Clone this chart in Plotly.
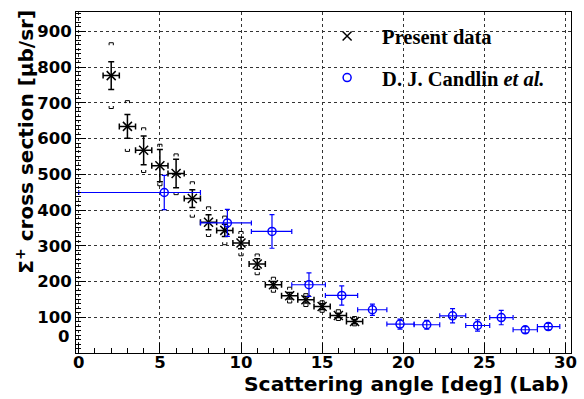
import plotly.graph_objects as go

# Present data (black)
pres_x = [2, 3, 4, 5, 6, 7, 8, 9, 10, 11, 12, 13, 14, 15, 16, 17]
pres_y = [776, 634, 567, 524, 502, 432, 366, 343, 308, 249, 191, 160, 149, 130, 105, 88]
pres_yerr = [39, 33, 40, 45, 40, 25, 21, 17, 16, 15, 9, 9, 9, 8, 6, 6]
pres_xerr = [0.5] * 16
pres_sys_hi = [868, 706, 630, 584, 557, 479, 409, 383, 340, 277, 212, 184, 166, 146, 121, 102]
pres_sys_lo = [684, 564, 505, 468, 443, 380, 326, 303, 272, 219, 170, 140, 130, 114, 91, 76]

# D. J. Candlin et al. (blue)
cand_x = [5.27, 9.16, 11.91, 14.19, 16.21, 18.1, 19.8, 21.45, 23.04, 24.58, 26.04, 27.52, 28.94]
cand_y = [449, 364, 340, 191, 161, 121, 81, 79, 104, 77, 99, 65, 74]
cand_yerr = [48, 38, 47, 33, 27, 16, 14, 12, 20, 16, 20, 9, 9]
cand_lo = [0, 7.5, 10.64, 13.13, 15.2, 17.19, 18.99, 20.67, 22.25, 23.85, 25.33, 26.77, 28.27]
cand_hi = [7.5, 10.64, 13.13, 15.2, 17.19, 18.99, 20.67, 22.25, 23.85, 25.33, 26.77, 28.27, 29.65]

x_ticks = [0, 5, 10, 15, 20, 25, 30]
y_ticks = [100, 200, 300, 400, 500, 600, 700, 800, 900]

SANS = "DejaVu Sans"
SERIF = "Liberation Serif"

# systematic brackets built from data
bw, bh = 0.13, 7
bx, by = [], []
for x, hi, lo in zip(pres_x, pres_sys_hi, pres_sys_lo):
    bx += [x - bw, x - bw, x + bw, x + bw, None]
    by += [hi - bh, hi, hi, hi - bh, None]
    bx += [x - bw, x - bw, x + bw, x + bw, None]
    by += [lo + bh, lo, lo, lo + bh, None]

fig = go.Figure()
fig.add_trace(go.Scatter(x=bx, y=by, mode="lines", line=dict(color="black", width=1),
                         showlegend=False, hoverinfo="skip"))
fig.add_trace(go.Scatter(
    x=pres_x, y=pres_y, mode="markers", name="<b>Present data</b>",
    marker=dict(symbol="x-thin", size=9, color="black", line=dict(color="black", width=1.5)),
    error_y=dict(type="data", array=pres_yerr, color="black", thickness=1.5, width=3),
    error_x=dict(type="data", array=pres_xerr, color="black", thickness=1.5, width=3),
    legendgroup="a"))
fig.add_trace(go.Scatter(
    x=cand_x, y=cand_y, mode="markers", name="<b>D. J. Candlin <i>et al.</i></b>",
    marker=dict(symbol="circle-open", size=8, color="blue", line=dict(color="blue", width=1.5)),
    error_y=dict(type="data", array=cand_yerr, color="blue", thickness=1.2, width=2.5),
    error_x=dict(type="data",
                 array=[h - c for h, c in zip(cand_hi, cand_x)],
                 arrayminus=[c - l for c, l in zip(cand_x, cand_lo)],
                 color="blue", thickness=1.2, width=2.5),
    legendgroup="b"))

axis_common = dict(showline=True, linecolor="black", linewidth=1, mirror=True,
                   ticks="inside", tickcolor="black", ticklen=10,
                   showgrid=True, gridcolor="#333333", gridwidth=1, griddash="dot",
                   zeroline=False,
                   tickfont=dict(family=SANS, size=16.5, color="black", weight=700))

fig.update_xaxes(range=[-0.17, 30.34], tickvals=x_ticks, ticklabelstandoff=-6,
                 minor=dict(dtick=1, ticklen=5, ticks="inside", tickcolor="black", showgrid=False),
                 **axis_common)
fig.update_yaxes(range=[0, 954], tickvals=y_ticks,
                 minor=dict(dtick=12.5, ticklen=5, ticks="inside", tickcolor="black", showgrid=False),
                 **axis_common)

fig.add_annotation(text="<b>Scattering angle [deg] (Lab)</b>", xref="paper", yref="paper",
                   x=1.0, y=-0.09, xanchor="right", yanchor="middle", showarrow=False,
                   font=dict(family=SANS, size=20.3, color="black"))
fig.add_annotation(text="<b>Σ<sup>+</sup> cross section [μb/sr]</b>", xref="paper", yref="paper",
                   x=-0.1038, y=1.0117, xanchor="center", yanchor="top", textangle=-90,
                   showarrow=False, font=dict(family=SANS, size=20, color="black"))
fig.add_annotation(text="<b>0</b>", xref="paper", yref="paper", x=-0.01, y=0.047,
                   xanchor="right", yanchor="middle", showarrow=False,
                   font=dict(family=SANS, size=16.5, color="black"))

fig.update_layout(
    width=584, height=399, margin=dict(l=76, r=7, t=12, b=46),
    paper_bgcolor="white", plot_bgcolor="white",
    showlegend=True,
    legend=dict(x=0.477, y=0.988, xanchor="left", yanchor="top", bgcolor="rgba(0,0,0,0)",
                font=dict(family=SERIF, size=20.5, color="black"), tracegroupgap=12,
                itemwidth=60),
)

fig.write_html("out.html")
